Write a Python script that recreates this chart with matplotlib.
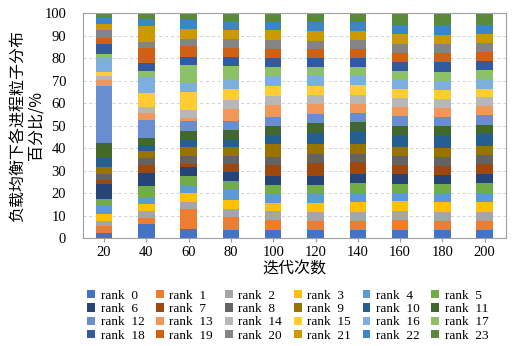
import matplotlib
matplotlib.use("Agg")
import matplotlib.pyplot as plt
import numpy as np

plt.rcParams['font.family'] = ['Liberation Serif', 'Noto Sans CJK SC']

iters = ['20', '40', '60', '80', '100', '120', '140', '160', '180', '200']
ranks = ['rank  %d' % i for i in range(24)]

# percentage of particles per rank (one list per iteration, rank 0..23)
p20 = [2.4, 3.0, 2.4, 3.1, 3.4, 3.0, 6.8, 1.5, 2.7, 3.4, 3.7, 7.0, 25.3, 2.7, 1.8, 1.8, 6.2, 1.8, 4.1, 3.0, 3.3, 2.7, 3.3, 1.9]
p40 = [6.2, 2.7, 3.3, 3.1, 2.5, 5.5, 5.5, 3.9, 3.0, 3.0, 2.7, 3.3, 8.0, 3.0, 2.4, 6.2, 7.4, 2.7, 3.3, 6.7, 2.8, 7.1, 3.1, 3.0]
p60 = [3.9, 8.9, 3.3, 3.9, 3.1, 4.4, 4.1, 1.5, 3.3, 4.0, 3.4, 3.7, 4.4, 1.5, 3.6, 7.9, 3.9, 8.0, 3.9, 4.7, 3.3, 4.1, 4.0, 3.4]
p80 = [3.7, 5.5, 3.7, 4.1, 4.3, 3.9, 4.1, 3.7, 3.7, 3.7, 3.7, 3.9, 3.9, 5.5, 4.1, 4.7, 4.0, 6.1, 4.0, 4.0, 4.0, 4.1, 3.9, 3.7]
p100 = [3.7, 4.3, 3.9, 3.7, 4.0, 4.1, 4.0, 4.6, 3.7, 5.8, 3.9, 4.0, 4.0, 5.3, 4.3, 4.4, 4.4, 4.0, 4.1, 4.0, 3.7, 4.4, 3.9, 3.7]
p120 = [3.7, 4.0, 3.9, 4.0, 4.0, 4.0, 4.1, 5.8, 3.7, 4.6, 4.9, 4.4, 4.0, 4.4, 3.9, 4.4, 4.1, 4.1, 4.0, 4.1, 3.7, 4.3, 4.0, 3.7]
p140 = [3.7, 4.0, 4.1, 4.1, 4.3, 4.1, 4.1, 5.2, 3.9, 4.4, 5.8, 4.0, 3.9, 4.1, 4.0, 4.3, 4.0, 4.0, 4.1, 4.0, 4.0, 4.0, 4.0, 3.7]
p160 = [3.7, 4.3, 3.9, 4.4, 3.7, 4.0, 4.3, 4.0, 4.0, 4.1, 5.5, 4.1, 4.1, 4.1, 3.9, 4.1, 3.9, 4.1, 4.1, 4.1, 4.1, 4.1, 4.1, 4.9]
p180 = [3.7, 4.0, 4.1, 4.4, 3.7, 4.0, 4.1, 4.0, 4.1, 4.1, 5.5, 4.1, 4.0, 4.1, 4.0, 4.1, 4.0, 4.0, 4.1, 4.1, 4.0, 4.1, 4.3, 4.9]
p200 = [3.7, 4.0, 4.1, 4.1, 4.3, 4.1, 4.1, 4.4, 4.0, 4.1, 5.2, 4.0, 4.4, 4.1, 3.9, 3.9, 4.1, 4.1, 4.1, 4.0, 4.0, 4.1, 4.1, 4.6]

colors = ['#4472C4', '#ED7D31', '#A5A5A5', '#FFC000', '#5B9BD5', '#70AD47',
          '#264478', '#9E480E', '#636363', '#997300', '#255E91', '#43682B',
          '#698ED0', '#F1975A', '#B7B7B7', '#FFCD33', '#7CAFDD', '#8CC168',
          '#335AA1', '#D26012', '#848484', '#CC9A00', '#3A86C8', '#5A8A39']

data = np.array([p20, p40, p60, p80, p100, p120, p140, p160, p180, p200])

fig = plt.figure(figsize=(5.21, 3.46), dpi=100)
ax = fig.add_axes([0.159, 0.312, 0.812, 0.650])

x = np.arange(len(iters))
bottom = np.zeros(len(iters))
bars = []
for i in range(24):
    b = ax.bar(x, data[:, i], 0.39, bottom=bottom, color=colors[i], label=ranks[i])
    bars.append(b)
    bottom += data[:, i]

ax.set_xlim(-0.5, len(iters) - 0.5)
ax.set_ylim(0, 100)
ax.set_yticks(range(0, 101, 10))
ax.set_xticks(x)
ax.set_xticklabels(iters)
ax.tick_params(axis='y', length=0, labelsize=10.5, pad=12)
ax.tick_params(axis='x', length=3, color='#999999', labelsize=10.5, pad=3)
ax.yaxis.grid(True, linestyle=(0, (3, 3)), color='#D0D0D0', linewidth=0.7)
ax.set_axisbelow(True)
for s in ax.spines.values():
    s.set_color('#A0A0A0')
    s.set_linewidth(0.8)

ax.set_ylabel('负载均衡下各进程粒子分布\n百分比/%', fontsize=11.5, family=['Noto Sans CJK SC'],
              labelpad=0, linespacing=1.0)
ax.set_xlabel('迭代次数', fontsize=11.5, family=['Noto Sans CJK SC'], labelpad=1)

# legend filled row by row
order = [r * 6 + c for c in range(6) for r in range(4)]
handles = [bars[k] for k in order]
labels = [ranks[k] for k in order]
fig.legend(handles, labels, ncol=6, loc='lower left', bbox_to_anchor=(0.145, -0.022),
           frameon=False, fontsize=9.5, handlelength=0.6, handleheight=0.6,
           handletextpad=0.4, columnspacing=0.9, labelspacing=0.1)

fig.savefig('out.png', dpi=100)
